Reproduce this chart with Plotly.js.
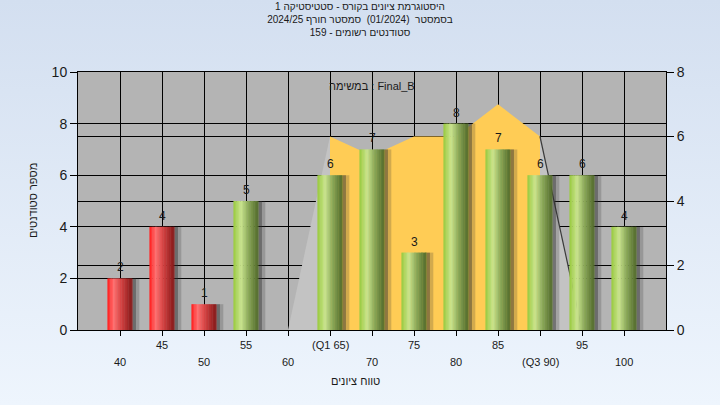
<!DOCTYPE html>
<html><head><meta charset="utf-8">
<script src="https://cdn.plot.ly/plotly-3.0.1.min.js"></script>
<style>
html,body{margin:0;padding:0;width:720px;height:405px;overflow:hidden;}
body{background:linear-gradient(to bottom,#D3DFF0 0%,#EEF5FD 100%);}
#chart{width:720px;height:405px;}
</style></head><body><div id="chart"></div>
<script>
// ---- data ----
const categories = [40,45,50,55,60,65,70,75,80,85,90,95,100];
const counts     = [2,4,1,5,0,6,7,3,8,7,6,6,4];
const passMark   = 55;
const tickLabels = ['40','45','50','55','60','(Q1 65)','70','75','80','85','(Q3 90)','95','100'];
const densityX   = [60,65,70,75,80,85,90,95];
const densityY   = [0,6,5.4,6,6,7,6,0];
const q1 = 65, q3 = 90;
const titleLines = ['היסטוגרמת ציונים בקורס - סטטיסטיקה 1','בסמסטר  (01/2024)  סמסטר חורף 2024/25','סטודנטים רשומים - 159'];
const xTitle = 'טווח ציונים';
const yTitle = 'מספר סטודנטים';
const legendText = 'במשימה : Final_B';

// ---- helpers (style only) ----
const FONT = '"Liberation Sans", Arial, "DejaVu Sans", sans-serif';
const TXT = '#1a1a1a';
const redStops   = [[0,[255,28,28]],[0.25,[255,112,112]],[0.55,[212,66,66]],[1,[128,22,22]]];
const greenStops = [[0,[152,202,62]],[0.3,[202,228,142]],[0.6,[138,168,88]],[1,[78,102,40]]];
function interp(stops,t){
  for(let k=0;k<stops.length-1;k++){
    const [t0,c0]=stops[k],[t1,c1]=stops[k+1];
    if(t>=t0 && t<=t1){
      const f=(t-t0)/(t1-t0);
      return 'rgb('+c0.map((v,j)=>Math.round(v+(c1[j]-v)*f)).join(',')+')';
    }
  }
  return 'rgb('+stops[stops.length-1][1].join(',')+')';
}

const traces = [];
// density area (base axis 'y' = right side, drawn underneath)
const iq1 = densityX.indexOf(q1), iq3 = densityX.indexOf(q3);
traces.push({type:'scatter', x:densityX.slice(0,iq1+1), y:densityY.slice(0,iq1+1), yaxis:'y',
  mode:'lines', fill:'tozeroy', fillcolor:'#C3C3C3', line:{width:0}, hoverinfo:'skip'});
traces.push({type:'scatter', x:densityX.slice(iq1,iq3+1), y:densityY.slice(iq1,iq3+1), yaxis:'y',
  mode:'lines', fill:'tozeroy', fillcolor:'#FFCC55', line:{width:0}, hoverinfo:'skip'});
traces.push({type:'scatter', x:densityX.slice(iq3), y:densityY.slice(iq3), yaxis:'y',
  mode:'lines', fill:'tozeroy', fillcolor:'#C3C3C3', line:{width:1.2,color:'#3a3a3a'}, hoverinfo:'skip'});

// bars on overlaying axis 'y2' (left side): shadow + cylinder slices
const BW = 3, N = 18;
traces.push({type:'bar', x:categories, y:counts, yaxis:'y2', width:0.4, offset:BW/2, marker:{color:'rgba(50,50,50,0.55)', line:{width:0}}, hoverinfo:'skip'});
traces.push({type:'bar', x:categories, y:counts, yaxis:'y2', width:0.4, offset:BW/2+0.4, marker:{color:'rgba(50,50,50,0.22)', line:{width:0}}, hoverinfo:'skip'});
for(let i=0;i<N;i++){
  const t=(i+0.5)/N;
  const colors = categories.map(c => c < passMark ? interp(redStops,t) : interp(greenStops,t));
  const w = i===N-1 ? BW/N : BW/N*1.3;
  traces.push({type:'bar', x:categories, y:counts, yaxis:'y2', width:w, offset:-BW/2+i*BW/N,
    marker:{color:colors, line:{width:0}}, hoverinfo:'skip'});
}

// annotations
const annotations = [];
categories.forEach((c,i)=>{
  if(counts[i]>0) annotations.push({x:c, xref:'x', y:counts[i], yref:'y2', yanchor:'bottom', yshift:2,
    text:String(counts[i]), showarrow:false, font:{family:FONT, size:12, color:TXT}});
});
categories.forEach((c,i)=>annotations.push({
  x:c, xref:'x', y:(i%2===1 ? -0.060 : -0.124), yref:'paper', yanchor:'middle',
  text:tickLabels[i], showarrow:false, font:{family:FONT, size:11, color:TXT}
}));
annotations.push({x:-0.0765, xref:'paper', xanchor:'center', y:0.5, yref:'paper', yanchor:'middle', text:yTitle, textangle:-90,
  showarrow:false, font:{family:FONT, size:11, color:TXT}});
annotations.push({x:35 + (355-78)/588*70, xref:'x', xanchor:'center', y:-0.198, yref:'paper', yanchor:'middle', text:xTitle,
  showarrow:false, font:{family:FONT, size:11, color:TXT}});
annotations.push({x:0.5, xref:'paper', y:0.946, yref:'paper', yanchor:'middle', text:legendText,
  showarrow:false, font:{family:FONT, size:11, color:TXT}});

const layout = {
  width:720, height:405,
  margin:{l:78, r:54, t:72, b:75, pad:0},
  paper_bgcolor:'rgba(0,0,0,0)', plot_bgcolor:'#B4B4B4',
  barmode:'overlay', showlegend:false,
  title:{text:titleLines.join('<br>'), font:{family:FONT, size:10, color:TXT},
    x:0.5, xref:'container', xanchor:'center', y:0.975, yref:'container', yanchor:'top'},
  xaxis:{range:[35,105], tickvals:categories, showticklabels:false, ticks:'outside', ticklen:5, tickcolor:'#000',
    showgrid:true, gridcolor:'#000', gridwidth:1, showline:true, linecolor:'#000', linewidth:1, mirror:true, zeroline:false},
  yaxis:{range:[0,8], dtick:2, side:'right', ticks:'outside', ticklen:7, tickcolor:'#000', showgrid:true, gridcolor:'#000',
    showline:true, linecolor:'#000', zeroline:false, tickfont:{family:FONT, size:14, color:TXT}},
  yaxis2:{range:[0,10], dtick:2, overlaying:'y', side:'left', ticks:'outside', ticklen:7, tickcolor:'#000',
    showgrid:true, gridcolor:'#000', showline:true, linecolor:'#000', zeroline:false, tickfont:{family:FONT, size:14, color:TXT}},
  annotations:annotations
};

Plotly.newPlot('chart', traces, layout, {staticPlot:true, displayModeBar:false});
</script></body></html>
